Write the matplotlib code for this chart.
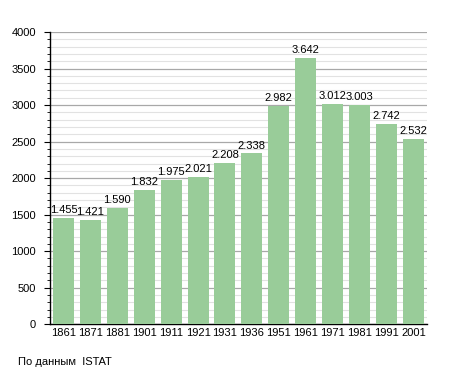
import matplotlib.pyplot as plt
from matplotlib.ticker import MultipleLocator

plt.rcParams['font.family'] = ['Liberation Sans', 'DejaVu Sans']

# census years and population
years = ['1861', '1871', '1881', '1901', '1911', '1921', '1931',
         '1936', '1951', '1961', '1971', '1981', '1991', '2001']
population = [1455, 1421, 1590, 1832, 1975, 2021, 2208,
              2338, 2982, 3642, 3012, 3003, 2742, 2532]

fig = plt.figure(figsize=(4.55, 3.73), dpi=100)
ax = fig.add_axes([0.110, 0.131, 0.828, 0.783])

x = range(len(years))
ax.bar(x, population, width=0.78, color='#99cc99', zorder=3)

# value labels with dot as thousands separator
for i, v in enumerate(population):
    ax.text(i, v + 40, f'{v:,}'.replace(',', '.'), ha='center', va='bottom',
            fontsize=8, zorder=4)

ax.set_xlim(-0.5, len(years) - 0.5)
ax.set_ylim(0, 4000)
ax.set_xticks(list(x))
ax.set_xticklabels(years)
ax.yaxis.set_major_locator(MultipleLocator(500))
ax.yaxis.set_minor_locator(MultipleLocator(100))

# grid lines
ax.grid(axis='y', which='major', color='#a8a8a8', linewidth=0.9, zorder=1)
ax.grid(axis='y', which='minor', color='#e2e2e2', linewidth=0.8, zorder=1)

ax.tick_params(axis='x', length=0, labelsize=8, pad=3)
ax.tick_params(axis='y', which='major', length=4, labelsize=8, pad=6)
ax.tick_params(axis='y', which='minor', length=2)

for side in ['top', 'right']:
    ax.spines[side].set_visible(False)
ax.spines['left'].set_linewidth(1.0)
ax.spines['bottom'].set_linewidth(1.0)

fig.text(18 / 455, 1 - 362 / 373, 'По данным  ISTAT', fontsize=8, ha='left', va='center')

fig.savefig('out.png', dpi=100)
